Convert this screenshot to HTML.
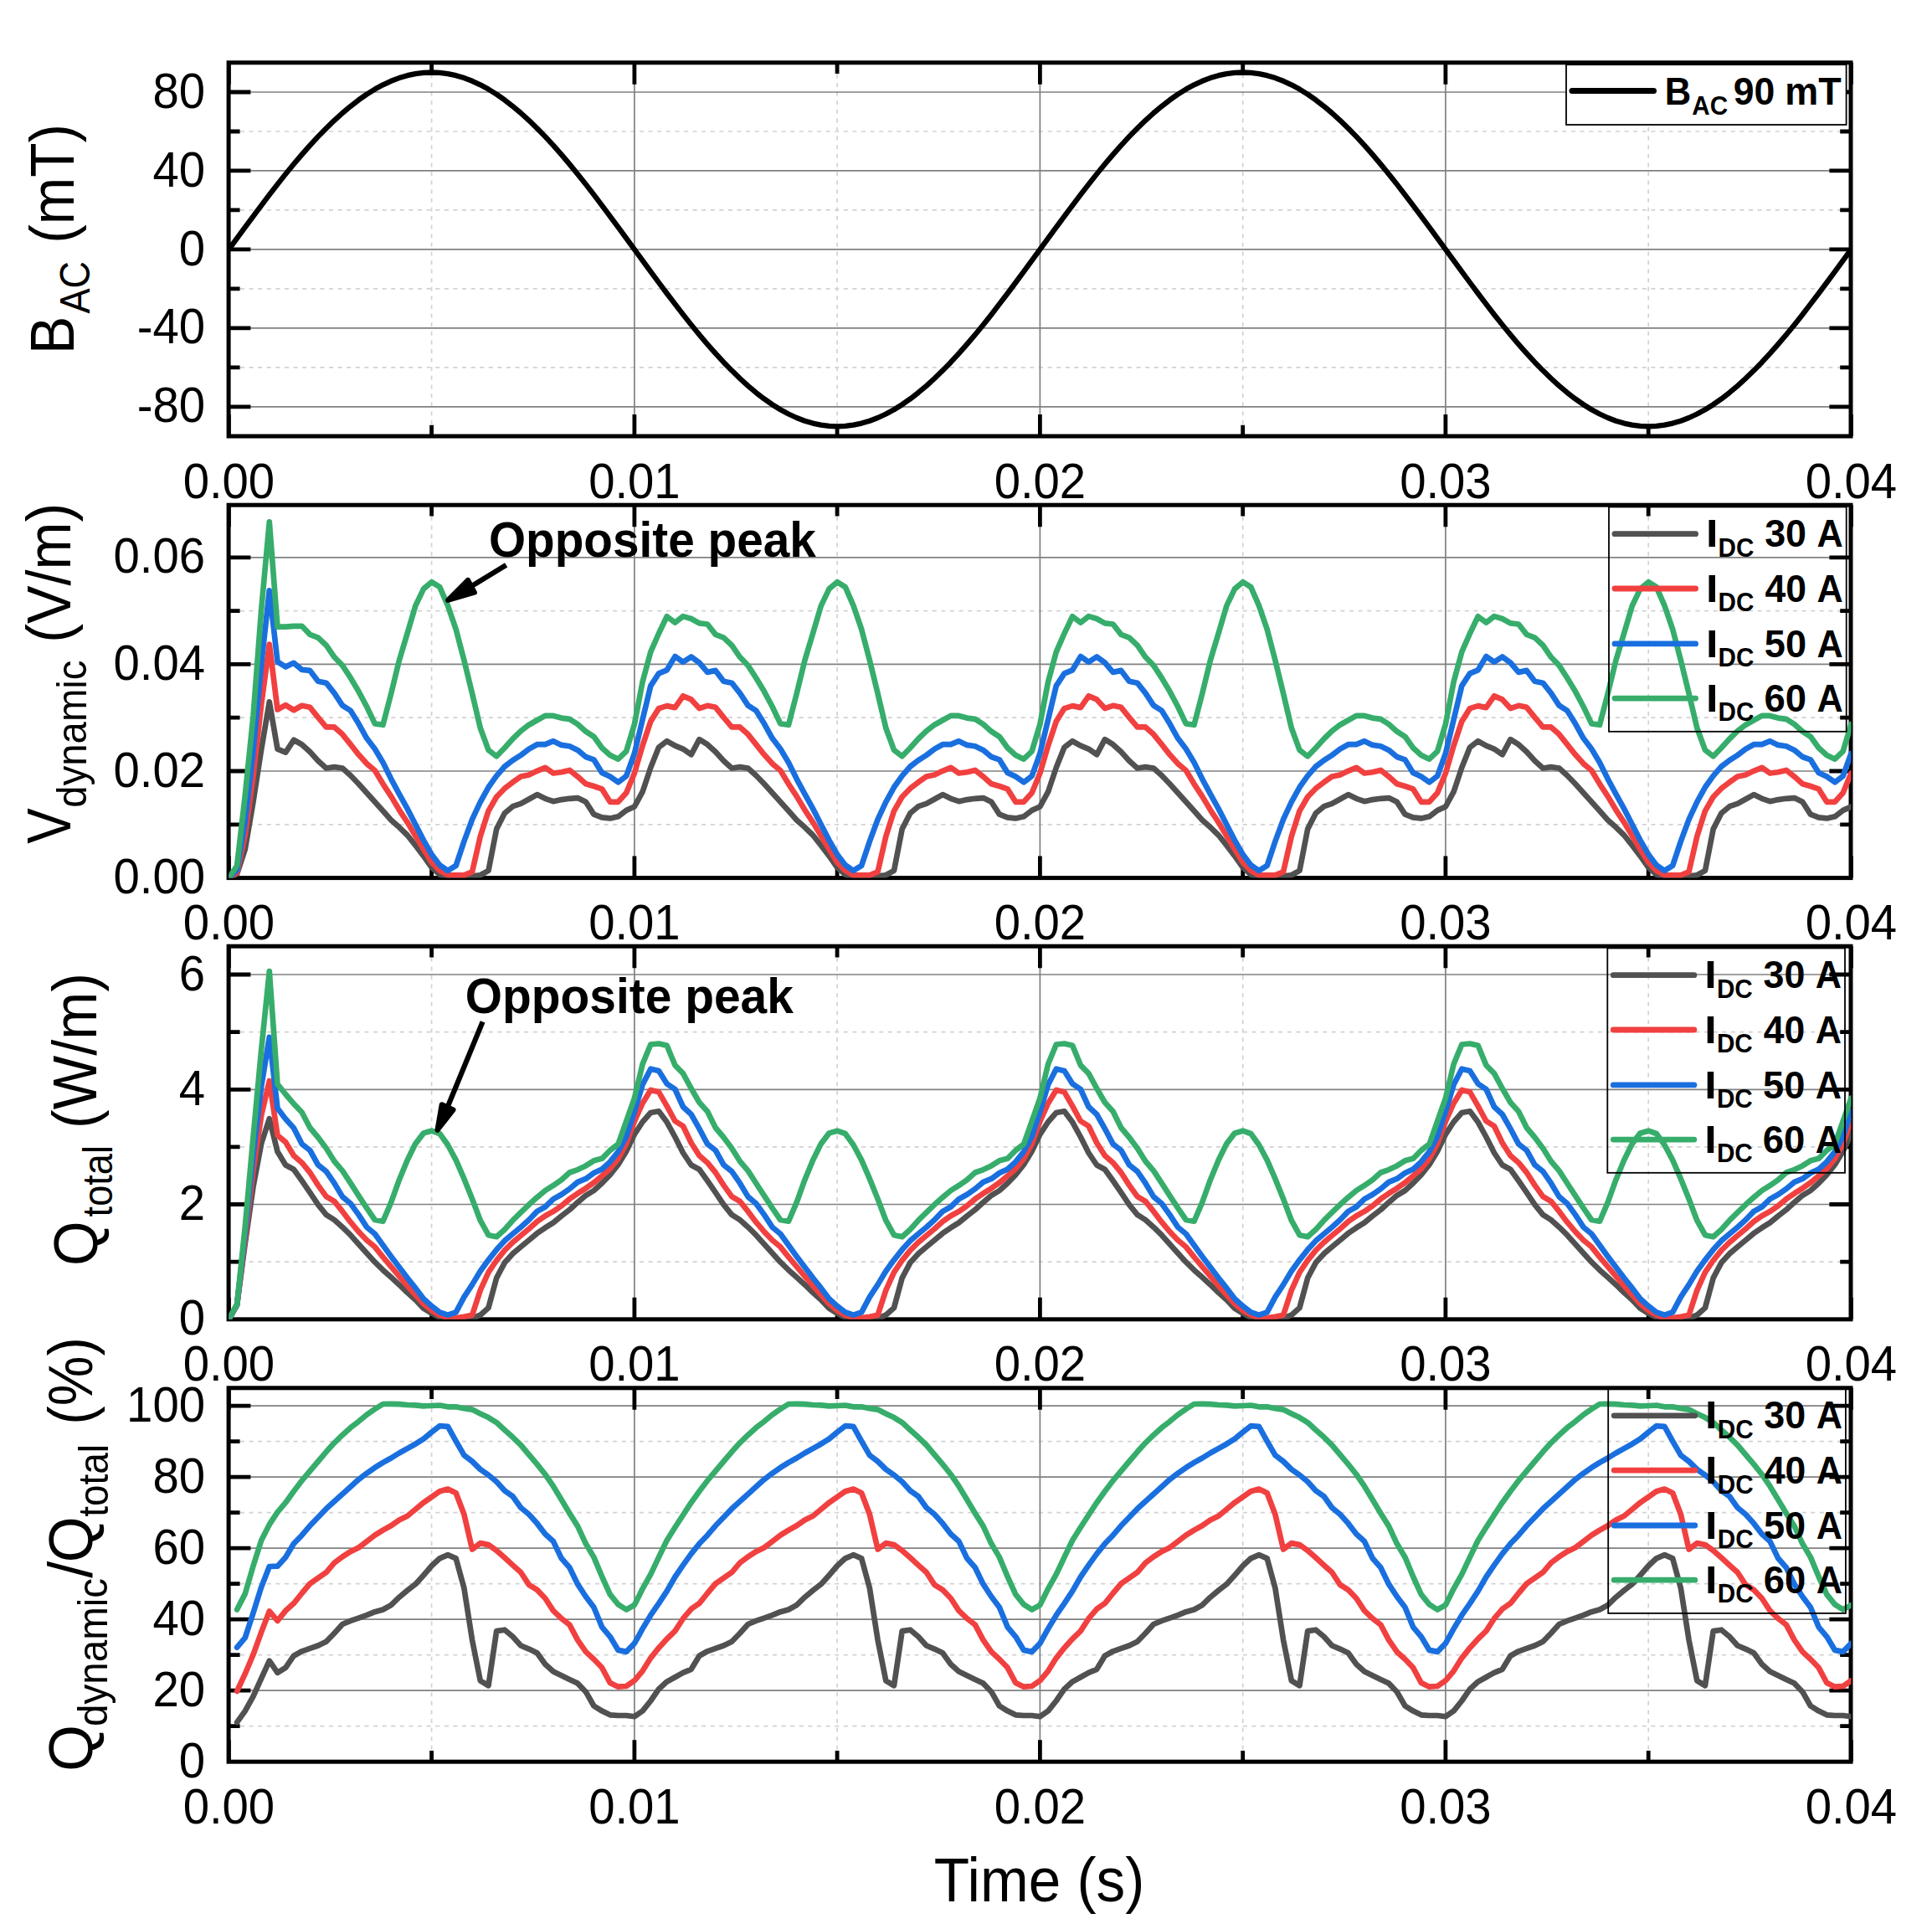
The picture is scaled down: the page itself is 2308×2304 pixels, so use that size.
<!DOCTYPE html>
<html lang="en"><head><meta charset="utf-8"><title>Dynamic voltage and loss versus time</title>
<style>html,body{margin:0;padding:0;background:#fff}svg{display:block}text{font-family:"Liberation Sans", sans-serif;fill:#000}</style></head><body>
<svg width="2308" height="2304" viewBox="0 0 2308 2304">
<rect width="2308" height="2304" fill="#fff"/>
<defs>
<clipPath id="c0"><rect x="273.4" y="74.8" width="1938" height="446.2"/></clipPath>
<clipPath id="c1"><rect x="273.4" y="603.2" width="1938" height="445.4"/></clipPath>
<clipPath id="c2"><rect x="273.4" y="1130.2" width="1938" height="445.6"/></clipPath>
<clipPath id="c3"><rect x="273.4" y="1657.8" width="1938" height="446.4"/></clipPath>
</defs>
<g>
<line x1="273.4" y1="157" x2="2211.4" y2="157" stroke="#d2d2d2" stroke-width="1.7" stroke-dasharray="5 5.6" stroke-dashoffset="-3"/>
<line x1="273.4" y1="250.9" x2="2211.4" y2="250.9" stroke="#d2d2d2" stroke-width="1.7" stroke-dasharray="5 5.6" stroke-dashoffset="-3"/>
<line x1="273.4" y1="344.9" x2="2211.4" y2="344.9" stroke="#d2d2d2" stroke-width="1.7" stroke-dasharray="5 5.6" stroke-dashoffset="-3"/>
<line x1="273.4" y1="438.8" x2="2211.4" y2="438.8" stroke="#d2d2d2" stroke-width="1.7" stroke-dasharray="5 5.6" stroke-dashoffset="-3"/>
<line x1="515.6" y1="74.8" x2="515.6" y2="521" stroke="#d2d2d2" stroke-width="1.7" stroke-dasharray="5 5.6" stroke-dashoffset="-3"/>
<line x1="1000.1" y1="74.8" x2="1000.1" y2="521" stroke="#d2d2d2" stroke-width="1.7" stroke-dasharray="5 5.6" stroke-dashoffset="-3"/>
<line x1="1484.7" y1="74.8" x2="1484.7" y2="521" stroke="#d2d2d2" stroke-width="1.7" stroke-dasharray="5 5.6" stroke-dashoffset="-3"/>
<line x1="1969.2" y1="74.8" x2="1969.2" y2="521" stroke="#d2d2d2" stroke-width="1.7" stroke-dasharray="5 5.6" stroke-dashoffset="-3"/>
<line x1="273.4" y1="110" x2="2211.4" y2="110" stroke="#808080" stroke-width="1.7"/>
<line x1="273.4" y1="203.9" x2="2211.4" y2="203.9" stroke="#808080" stroke-width="1.7"/>
<line x1="273.4" y1="297.9" x2="2211.4" y2="297.9" stroke="#808080" stroke-width="1.7"/>
<line x1="273.4" y1="391.9" x2="2211.4" y2="391.9" stroke="#808080" stroke-width="1.7"/>
<line x1="273.4" y1="485.8" x2="2211.4" y2="485.8" stroke="#808080" stroke-width="1.7"/>
<line x1="757.9" y1="74.8" x2="757.9" y2="521" stroke="#808080" stroke-width="1.7"/>
<line x1="1242.4" y1="74.8" x2="1242.4" y2="521" stroke="#808080" stroke-width="1.7"/>
<line x1="1726.9" y1="74.8" x2="1726.9" y2="521" stroke="#808080" stroke-width="1.7"/>
<path d="M273.4 110h26M2211.4 110h-26M273.4 203.9h26M2211.4 203.9h-26M273.4 297.9h26M2211.4 297.9h-26M273.4 391.9h26M2211.4 391.9h-26M273.4 485.8h26M2211.4 485.8h-26M273.4 157h13.2M2211.4 157h-13.2M273.4 250.9h13.2M2211.4 250.9h-13.2M273.4 344.9h13.2M2211.4 344.9h-13.2M273.4 438.8h13.2M2211.4 438.8h-13.2M273.4 74.8v26M273.4 521v-26M757.9 74.8v26M757.9 521v-26M1242.4 74.8v26M1242.4 521v-26M1726.9 74.8v26M1726.9 521v-26M2211.4 74.8v26M2211.4 521v-26M515.6 74.8v13.2M515.6 521v-13.2M1000.1 74.8v13.2M1000.1 521v-13.2M1484.7 74.8v13.2M1484.7 521v-13.2M1969.2 74.8v13.2M1969.2 521v-13.2" stroke="#000" stroke-width="4.8" fill="none"/>
<rect x="273.1" y="74.8" width="1937.9" height="446.2" fill="none" stroke="#000" stroke-width="5"/>
</g>
<g>
<line x1="273.4" y1="729.6" x2="2211.4" y2="729.6" stroke="#d2d2d2" stroke-width="1.7" stroke-dasharray="5 5.6" stroke-dashoffset="-3"/>
<line x1="273.4" y1="857.2" x2="2211.4" y2="857.2" stroke="#d2d2d2" stroke-width="1.7" stroke-dasharray="5 5.6" stroke-dashoffset="-3"/>
<line x1="273.4" y1="984.8" x2="2211.4" y2="984.8" stroke="#d2d2d2" stroke-width="1.7" stroke-dasharray="5 5.6" stroke-dashoffset="-3"/>
<line x1="515.6" y1="603.2" x2="515.6" y2="1048.6" stroke="#d2d2d2" stroke-width="1.7" stroke-dasharray="5 5.6" stroke-dashoffset="-3"/>
<line x1="1000.1" y1="603.2" x2="1000.1" y2="1048.6" stroke="#d2d2d2" stroke-width="1.7" stroke-dasharray="5 5.6" stroke-dashoffset="-3"/>
<line x1="1484.7" y1="603.2" x2="1484.7" y2="1048.6" stroke="#d2d2d2" stroke-width="1.7" stroke-dasharray="5 5.6" stroke-dashoffset="-3"/>
<line x1="1969.2" y1="603.2" x2="1969.2" y2="1048.6" stroke="#d2d2d2" stroke-width="1.7" stroke-dasharray="5 5.6" stroke-dashoffset="-3"/>
<line x1="273.4" y1="665.8" x2="2211.4" y2="665.8" stroke="#808080" stroke-width="1.7"/>
<line x1="273.4" y1="793.4" x2="2211.4" y2="793.4" stroke="#808080" stroke-width="1.7"/>
<line x1="273.4" y1="921" x2="2211.4" y2="921" stroke="#808080" stroke-width="1.7"/>
<line x1="757.9" y1="603.2" x2="757.9" y2="1048.6" stroke="#808080" stroke-width="1.7"/>
<line x1="1242.4" y1="603.2" x2="1242.4" y2="1048.6" stroke="#808080" stroke-width="1.7"/>
<line x1="1726.9" y1="603.2" x2="1726.9" y2="1048.6" stroke="#808080" stroke-width="1.7"/>
<path d="M273.4 665.8h26M2211.4 665.8h-26M273.4 793.4h26M2211.4 793.4h-26M273.4 921h26M2211.4 921h-26M273.4 729.6h13.2M2211.4 729.6h-13.2M273.4 857.2h13.2M2211.4 857.2h-13.2M273.4 984.8h13.2M2211.4 984.8h-13.2M273.4 603.2v26M273.4 1048.6v-26M757.9 603.2v26M757.9 1048.6v-26M1242.4 603.2v26M1242.4 1048.6v-26M1726.9 603.2v26M1726.9 1048.6v-26M2211.4 603.2v26M2211.4 1048.6v-26M515.6 603.2v13.2M515.6 1048.6v-13.2M1000.1 603.2v13.2M1000.1 1048.6v-13.2M1484.7 603.2v13.2M1484.7 1048.6v-13.2M1969.2 603.2v13.2M1969.2 1048.6v-13.2" stroke="#000" stroke-width="4.8" fill="none"/>
<rect x="273.1" y="603.2" width="1937.9" height="445.4" fill="none" stroke="#000" stroke-width="5"/>
</g>
<g>
<line x1="273.4" y1="1232.7" x2="2211.4" y2="1232.7" stroke="#d2d2d2" stroke-width="1.7" stroke-dasharray="5 5.6" stroke-dashoffset="-3"/>
<line x1="273.4" y1="1369.9" x2="2211.4" y2="1369.9" stroke="#d2d2d2" stroke-width="1.7" stroke-dasharray="5 5.6" stroke-dashoffset="-3"/>
<line x1="273.4" y1="1507.2" x2="2211.4" y2="1507.2" stroke="#d2d2d2" stroke-width="1.7" stroke-dasharray="5 5.6" stroke-dashoffset="-3"/>
<line x1="515.6" y1="1130.2" x2="515.6" y2="1575.8" stroke="#d2d2d2" stroke-width="1.7" stroke-dasharray="5 5.6" stroke-dashoffset="-3"/>
<line x1="1000.1" y1="1130.2" x2="1000.1" y2="1575.8" stroke="#d2d2d2" stroke-width="1.7" stroke-dasharray="5 5.6" stroke-dashoffset="-3"/>
<line x1="1484.7" y1="1130.2" x2="1484.7" y2="1575.8" stroke="#d2d2d2" stroke-width="1.7" stroke-dasharray="5 5.6" stroke-dashoffset="-3"/>
<line x1="1969.2" y1="1130.2" x2="1969.2" y2="1575.8" stroke="#d2d2d2" stroke-width="1.7" stroke-dasharray="5 5.6" stroke-dashoffset="-3"/>
<line x1="273.4" y1="1164" x2="2211.4" y2="1164" stroke="#808080" stroke-width="1.7"/>
<line x1="273.4" y1="1301.3" x2="2211.4" y2="1301.3" stroke="#808080" stroke-width="1.7"/>
<line x1="273.4" y1="1438.5" x2="2211.4" y2="1438.5" stroke="#808080" stroke-width="1.7"/>
<line x1="757.9" y1="1130.2" x2="757.9" y2="1575.8" stroke="#808080" stroke-width="1.7"/>
<line x1="1242.4" y1="1130.2" x2="1242.4" y2="1575.8" stroke="#808080" stroke-width="1.7"/>
<line x1="1726.9" y1="1130.2" x2="1726.9" y2="1575.8" stroke="#808080" stroke-width="1.7"/>
<path d="M273.4 1164h26M2211.4 1164h-26M273.4 1301.3h26M2211.4 1301.3h-26M273.4 1438.5h26M2211.4 1438.5h-26M273.4 1232.7h13.2M2211.4 1232.7h-13.2M273.4 1369.9h13.2M2211.4 1369.9h-13.2M273.4 1507.2h13.2M2211.4 1507.2h-13.2M273.4 1130.2v26M273.4 1575.8v-26M757.9 1130.2v26M757.9 1575.8v-26M1242.4 1130.2v26M1242.4 1575.8v-26M1726.9 1130.2v26M1726.9 1575.8v-26M2211.4 1130.2v26M2211.4 1575.8v-26M515.6 1130.2v13.2M515.6 1575.8v-13.2M1000.1 1130.2v13.2M1000.1 1575.8v-13.2M1484.7 1130.2v13.2M1484.7 1575.8v-13.2M1969.2 1130.2v13.2M1969.2 1575.8v-13.2" stroke="#000" stroke-width="4.8" fill="none"/>
<rect x="273.1" y="1130.2" width="1937.9" height="445.6" fill="none" stroke="#000" stroke-width="5"/>
</g>
<g>
<line x1="273.4" y1="1721.7" x2="2211.4" y2="1721.7" stroke="#d2d2d2" stroke-width="1.7" stroke-dasharray="5 5.6" stroke-dashoffset="-3"/>
<line x1="273.4" y1="1806.7" x2="2211.4" y2="1806.7" stroke="#d2d2d2" stroke-width="1.7" stroke-dasharray="5 5.6" stroke-dashoffset="-3"/>
<line x1="273.4" y1="1891.7" x2="2211.4" y2="1891.7" stroke="#d2d2d2" stroke-width="1.7" stroke-dasharray="5 5.6" stroke-dashoffset="-3"/>
<line x1="273.4" y1="1976.7" x2="2211.4" y2="1976.7" stroke="#d2d2d2" stroke-width="1.7" stroke-dasharray="5 5.6" stroke-dashoffset="-3"/>
<line x1="273.4" y1="2061.7" x2="2211.4" y2="2061.7" stroke="#d2d2d2" stroke-width="1.7" stroke-dasharray="5 5.6" stroke-dashoffset="-3"/>
<line x1="515.6" y1="1657.8" x2="515.6" y2="2104.2" stroke="#d2d2d2" stroke-width="1.7" stroke-dasharray="5 5.6" stroke-dashoffset="-3"/>
<line x1="1000.1" y1="1657.8" x2="1000.1" y2="2104.2" stroke="#d2d2d2" stroke-width="1.7" stroke-dasharray="5 5.6" stroke-dashoffset="-3"/>
<line x1="1484.7" y1="1657.8" x2="1484.7" y2="2104.2" stroke="#d2d2d2" stroke-width="1.7" stroke-dasharray="5 5.6" stroke-dashoffset="-3"/>
<line x1="1969.2" y1="1657.8" x2="1969.2" y2="2104.2" stroke="#d2d2d2" stroke-width="1.7" stroke-dasharray="5 5.6" stroke-dashoffset="-3"/>
<line x1="273.4" y1="1679.2" x2="2211.4" y2="1679.2" stroke="#808080" stroke-width="1.7"/>
<line x1="273.4" y1="1764.2" x2="2211.4" y2="1764.2" stroke="#808080" stroke-width="1.7"/>
<line x1="273.4" y1="1849.2" x2="2211.4" y2="1849.2" stroke="#808080" stroke-width="1.7"/>
<line x1="273.4" y1="1934.2" x2="2211.4" y2="1934.2" stroke="#808080" stroke-width="1.7"/>
<line x1="273.4" y1="2019.2" x2="2211.4" y2="2019.2" stroke="#808080" stroke-width="1.7"/>
<line x1="757.9" y1="1657.8" x2="757.9" y2="2104.2" stroke="#808080" stroke-width="1.7"/>
<line x1="1242.4" y1="1657.8" x2="1242.4" y2="2104.2" stroke="#808080" stroke-width="1.7"/>
<line x1="1726.9" y1="1657.8" x2="1726.9" y2="2104.2" stroke="#808080" stroke-width="1.7"/>
<path d="M273.4 1679.2h26M2211.4 1679.2h-26M273.4 1764.2h26M2211.4 1764.2h-26M273.4 1849.2h26M2211.4 1849.2h-26M273.4 1934.2h26M2211.4 1934.2h-26M273.4 2019.2h26M2211.4 2019.2h-26M273.4 1721.7h13.2M2211.4 1721.7h-13.2M273.4 1806.7h13.2M2211.4 1806.7h-13.2M273.4 1891.7h13.2M2211.4 1891.7h-13.2M273.4 1976.7h13.2M2211.4 1976.7h-13.2M273.4 2061.7h13.2M2211.4 2061.7h-13.2M273.4 1657.8v26M273.4 2104.2v-26M757.9 1657.8v26M757.9 2104.2v-26M1242.4 1657.8v26M1242.4 2104.2v-26M1726.9 1657.8v26M1726.9 2104.2v-26M2211.4 1657.8v26M2211.4 2104.2v-26M515.6 1657.8v13.2M515.6 2104.2v-13.2M1000.1 1657.8v13.2M1000.1 2104.2v-13.2M1484.7 1657.8v13.2M1484.7 2104.2v-13.2M1969.2 1657.8v13.2M1969.2 2104.2v-13.2" stroke="#000" stroke-width="4.8" fill="none"/>
<rect x="273.1" y="1657.8" width="1937.9" height="446.4" fill="none" stroke="#000" stroke-width="5"/>
</g>
<rect x="1871" y="77.2" width="334.6" height="71.8" fill="#fff" stroke="#000" stroke-width="1.8"/>
<polyline clip-path="url(#c0)" points="273.4,297.9 283.1,284.6 292.8,271.4 302.5,258.3 312.2,245.3 321.8,232.6 331.5,220.1 341.2,207.9 350.9,196.1 360.6,184.6 370.3,173.6 380,163.1 389.7,153.2 399.4,143.8 409.1,135 418.8,126.9 428.4,119.4 438.1,112.6 447.8,106.6 457.5,101.3 467.2,96.8 476.9,93.1 486.6,90.2 496.3,88.2 506,86.9 515.6,86.5 525.3,86.9 535,88.2 544.7,90.2 554.4,93.1 564.1,96.8 573.8,101.3 583.5,106.6 593.2,112.6 602.9,119.4 612.5,126.9 622.2,135 631.9,143.8 641.6,153.2 651.3,163.1 661,173.6 670.7,184.6 680.4,196.1 690.1,207.9 699.8,220.1 709.5,232.6 719.1,245.3 728.8,258.3 738.5,271.4 748.2,284.6 757.9,297.9 767.6,311.2 777.3,324.4 787,337.5 796.7,350.5 806.4,363.2 816,375.7 825.7,387.9 835.4,399.7 845.1,411.2 854.8,422.2 864.5,432.7 874.2,442.6 883.9,452 893.6,460.8 903.2,468.9 912.9,476.4 922.6,483.2 932.3,489.2 942,494.5 951.7,499 961.4,502.7 971.1,505.6 980.8,507.6 990.5,508.9 1000.1,509.3 1009.8,508.9 1019.5,507.6 1029.2,505.6 1038.9,502.7 1048.6,499 1058.3,494.5 1068,489.2 1077.7,483.2 1087.4,476.4 1097,468.9 1106.7,460.8 1116.4,452 1126.1,442.6 1135.8,432.7 1145.5,422.2 1155.2,411.2 1164.9,399.7 1174.6,387.9 1184.3,375.7 1193.9,363.2 1203.6,350.5 1213.3,337.5 1223,324.4 1232.7,311.2 1242.4,297.9 1252.1,284.6 1261.8,271.4 1271.5,258.3 1281.2,245.3 1290.8,232.6 1300.5,220.1 1310.2,207.9 1319.9,196.1 1329.6,184.6 1339.3,173.6 1349,163.1 1358.7,153.2 1368.4,143.8 1378.1,135 1387.8,126.9 1397.4,119.4 1407.1,112.6 1416.8,106.6 1426.5,101.3 1436.2,96.8 1445.9,93.1 1455.6,90.2 1465.3,88.2 1475,86.9 1484.7,86.5 1494.3,86.9 1504,88.2 1513.7,90.2 1523.4,93.1 1533.1,96.8 1542.8,101.3 1552.5,106.6 1562.2,112.6 1571.9,119.4 1581.6,126.9 1591.2,135 1600.9,143.8 1610.6,153.2 1620.3,163.1 1630,173.6 1639.7,184.6 1649.4,196.1 1659.1,207.9 1668.8,220.1 1678.4,232.6 1688.1,245.3 1697.8,258.3 1707.5,271.4 1717.2,284.6 1726.9,297.9 1736.6,311.2 1746.3,324.4 1756,337.5 1765.7,350.5 1775.3,363.2 1785,375.7 1794.7,387.9 1804.4,399.7 1814.1,411.2 1823.8,422.2 1833.5,432.7 1843.2,442.6 1852.9,452 1862.6,460.8 1872.2,468.9 1881.9,476.4 1891.6,483.2 1901.3,489.2 1911,494.5 1920.7,499 1930.4,502.7 1940.1,505.6 1949.8,507.6 1959.5,508.9 1969.2,509.3 1978.8,508.9 1988.5,507.6 1998.2,505.6 2007.9,502.7 2017.6,499 2027.3,494.5 2037,489.2 2046.7,483.2 2056.4,476.4 2066.1,468.9 2075.7,460.8 2085.4,452 2095.1,442.6 2104.8,432.7 2114.5,422.2 2124.2,411.2 2133.9,399.7 2143.6,387.9 2153.3,375.7 2162.9,363.2 2172.6,350.5 2182.3,337.5 2192,324.4 2201.7,311.2 2211.4,297.9" fill="none" stroke="#000" stroke-width="6.3" stroke-linejoin="round" stroke-linecap="round"/>
<polyline clip-path="url(#c1)" points="273.4,1048.6 283.1,1044 292.8,1014.4 302.5,957.8 312.2,895 321.8,838.4 331.5,894.6 341.2,898.6 350.9,883.8 360.6,889.2 370.3,898 380,908.7 389.7,917.5 399.4,916.1 409.1,917.5 418.8,926.2 428.4,936.3 438.1,947.1 447.8,957.8 457.5,968.6 467.2,979.4 476.9,988.1 486.6,997.5 496.3,1009.7 506,1022.4 515.6,1036 525.3,1044.6 535,1048 544.7,1048.6 554.4,1048 564.1,1046.4 573.8,1045.3 583.5,1039.9 593.2,990.1 602.9,971.3 612.5,963.2 622.2,959.9 631.9,954.5 641.6,949.1 651.3,953.8 661,957.2 670.7,955.1 680.4,953.8 690.1,953.1 699.8,957.8 709.4,972.6 719.1,976.4 728.8,977.4 738.5,975.3 748.2,967.9 757.9,963.5 767.6,945.7 777.3,916.8 787,892.6 796.7,885.2 806.4,890.6 816,894.6 825.7,901.3 835.4,883.2 845.1,889.2 854.8,898 864.5,908.7 874.2,917.5 883.9,916.1 893.6,917.5 903.2,926.2 912.9,936.3 922.6,947.1 932.3,957.8 942,968.6 951.7,979.4 961.4,988.1 971.1,997.5 980.8,1009.7 990.5,1022.4 1000.1,1036 1009.8,1044.6 1019.5,1048 1029.2,1048.6 1038.9,1048 1048.6,1046.4 1058.3,1045.3 1068,1039.9 1077.7,990.1 1087.4,971.3 1097,963.2 1106.7,959.9 1116.4,954.5 1126.1,949.1 1135.8,953.8 1145.5,957.2 1155.2,955.1 1164.9,953.8 1174.6,953.1 1184.3,957.8 1193.9,972.6 1203.6,976.4 1213.3,977.4 1223,975.3 1232.7,967.9 1242.4,963.5 1252.1,945.7 1261.8,916.8 1271.5,892.6 1281.2,885.2 1290.9,890.6 1300.5,894.6 1310.2,901.3 1319.9,883.2 1329.6,889.2 1339.3,898 1349,908.7 1358.7,917.5 1368.4,916.1 1378.1,917.5 1387.8,926.2 1397.4,936.3 1407.1,947.1 1416.8,957.8 1426.5,968.6 1436.2,979.4 1445.9,988.1 1455.6,997.5 1465.3,1009.7 1475,1022.4 1484.7,1036 1494.3,1044.6 1504,1048 1513.7,1048.6 1523.4,1048 1533.1,1046.4 1542.8,1045.3 1552.5,1039.9 1562.2,990.1 1571.9,971.3 1581.6,963.2 1591.2,959.9 1600.9,954.5 1610.6,949.1 1620.3,953.8 1630,957.2 1639.7,955.1 1649.4,953.8 1659.1,953.1 1668.8,957.8 1678.5,972.6 1688.1,976.4 1697.8,977.4 1707.5,975.3 1717.2,967.9 1726.9,963.5 1736.6,945.7 1746.3,916.8 1756,892.6 1765.7,885.2 1775.4,890.6 1785,894.6 1794.7,901.3 1804.4,883.2 1814.1,889.2 1823.8,898 1833.5,908.7 1843.2,917.5 1852.9,916.1 1862.6,917.5 1872.2,926.2 1881.9,936.3 1891.6,947.1 1901.3,957.8 1911,968.6 1920.7,979.4 1930.4,988.1 1940.1,997.5 1949.8,1009.7 1959.5,1022.4 1969.2,1036 1978.8,1044.6 1988.5,1048 1998.2,1048.6 2007.9,1048 2017.6,1046.4 2027.3,1045.3 2037,1039.9 2046.7,990.1 2056.4,971.3 2066.1,963.2 2075.7,959.9 2085.4,954.5 2095.1,949.1 2104.8,953.8 2114.5,957.2 2124.2,955.1 2133.9,953.8 2143.6,953.1 2153.3,957.8 2162.9,972.6 2172.6,976.4 2182.3,977.4 2192,975.3 2201.7,967.9 2211.4,963.5" fill="none" stroke="#515151" stroke-width="6.7" stroke-linejoin="round" stroke-linecap="round"/>
<polyline clip-path="url(#c1)" points="273.4,1048.6 283.1,1042.2 292.8,997.6 302.5,927.4 312.2,841.3 321.8,769.5 331.5,847.5 341.2,842.1 350.9,848.2 360.6,842.8 370.3,844.8 380,856.9 389.7,868.4 399.4,868.4 409.1,877.1 418.8,889.2 428.4,901.3 438.1,912.1 447.8,920.2 457.5,936.3 467.2,951.1 476.9,967.3 486.6,982.1 496.3,998.2 506,1014.4 515.6,1030 525.3,1039.9 535,1045.3 544.7,1045.3 554.4,1045.3 564.1,1041.3 573.8,998.9 583.5,968.6 593.2,951.8 602.9,941.7 612.5,934.3 622.2,927.6 631.9,925.5 641.6,920.8 651.3,916.8 661,923.5 670.7,922.2 680.4,919.9 690.1,927.6 699.8,936.3 709.4,939 719.1,942.4 728.8,957.8 738.5,957.8 748.2,947.1 757.9,923.5 767.6,890.6 777.3,861.6 787,846.1 796.7,843.1 806.4,845.1 816,831.3 825.7,835.4 835.4,846.1 845.1,842.8 854.8,844.8 864.5,856.9 874.2,868.4 883.9,868.4 893.6,877.1 903.2,889.2 912.9,901.3 922.6,912.1 932.3,920.2 942,936.3 951.7,951.1 961.4,967.3 971.1,982.1 980.8,998.2 990.5,1014.4 1000.1,1030 1009.8,1039.9 1019.5,1045.3 1029.2,1045.3 1038.9,1045.3 1048.6,1041.3 1058.3,998.9 1068,968.6 1077.7,951.8 1087.4,941.7 1097,934.3 1106.7,927.6 1116.4,925.5 1126.1,920.8 1135.8,916.8 1145.5,923.5 1155.2,922.2 1164.9,919.9 1174.6,927.6 1184.3,936.3 1193.9,939 1203.6,942.4 1213.3,957.8 1223,957.8 1232.7,947.1 1242.4,923.5 1252.1,890.6 1261.8,861.6 1271.5,846.1 1281.2,843.1 1290.9,845.1 1300.5,831.3 1310.2,835.4 1319.9,846.1 1329.6,842.8 1339.3,844.8 1349,856.9 1358.7,868.4 1368.4,868.4 1378.1,877.1 1387.8,889.2 1397.4,901.3 1407.1,912.1 1416.8,920.2 1426.5,936.3 1436.2,951.1 1445.9,967.3 1455.6,982.1 1465.3,998.2 1475,1014.4 1484.7,1030 1494.3,1039.9 1504,1045.3 1513.7,1045.3 1523.4,1045.3 1533.1,1041.3 1542.8,998.9 1552.5,968.6 1562.2,951.8 1571.9,941.7 1581.6,934.3 1591.2,927.6 1600.9,925.5 1610.6,920.8 1620.3,916.8 1630,923.5 1639.7,922.2 1649.4,919.9 1659.1,927.6 1668.8,936.3 1678.5,939 1688.1,942.4 1697.8,957.8 1707.5,957.8 1717.2,947.1 1726.9,923.5 1736.6,890.6 1746.3,861.6 1756,846.1 1765.7,843.1 1775.4,845.1 1785,831.3 1794.7,835.4 1804.4,846.1 1814.1,842.8 1823.8,844.8 1833.5,856.9 1843.2,868.4 1852.9,868.4 1862.6,877.1 1872.2,889.2 1881.9,901.3 1891.6,912.1 1901.3,920.2 1911,936.3 1920.7,951.1 1930.4,967.3 1940.1,982.1 1949.8,998.2 1959.5,1014.4 1969.2,1030 1978.8,1039.9 1988.5,1045.3 1998.2,1045.3 2007.9,1045.3 2017.6,1041.3 2027.3,998.9 2037,968.6 2046.7,951.8 2056.4,941.7 2066.1,934.3 2075.7,927.6 2085.4,925.5 2095.1,920.8 2104.8,916.8 2114.5,923.5 2124.2,922.2 2133.9,919.9 2143.6,927.6 2153.3,936.3 2162.9,939 2172.6,942.4 2182.3,957.8 2192,957.8 2201.7,947.1 2211.4,923.5" fill="none" stroke="#F14040" stroke-width="6.7" stroke-linejoin="round" stroke-linecap="round"/>
<polyline clip-path="url(#c1)" points="273.4,1048.6 283.1,1039 292.8,981.6 302.5,897.4 312.2,793.4 321.8,705.4 331.5,790.4 341.2,796.5 350.9,791.8 360.6,799.8 370.3,800.9 380,813.7 389.7,815.7 399.4,827.8 409.1,842.6 418.8,848.8 428.4,864.3 438.1,881.8 447.8,894.6 457.5,910.7 467.2,930.3 476.9,948.4 486.6,965.9 496.3,984.8 506,1003.6 515.6,1020.4 525.3,1033.2 535,1039.9 544.7,1033.9 554.4,1004.9 564.1,978.7 573.8,957.8 583.5,940.3 593.2,926.6 602.9,915.5 612.5,908.1 622.2,902 631.9,894.6 641.6,889.2 651.3,889.2 661,885.2 670.7,889.9 680.4,891.2 690.1,895.9 699.8,904 709.4,907.4 719.1,922.9 728.8,927.6 738.5,934.3 748.2,926.9 757.9,900 767.6,859.5 777.3,819.1 787,804.3 796.7,800.3 806.4,784.1 816,790.8 825.7,784.5 835.4,791.5 845.1,802.9 854.8,800.9 864.5,813.7 874.2,815.7 883.9,827.8 893.6,842.6 903.2,848.8 912.9,864.3 922.6,881.8 932.3,894.6 942,910.7 951.7,930.3 961.4,948.4 971.1,965.9 980.8,984.8 990.5,1003.6 1000.1,1020.4 1009.8,1033.2 1019.5,1039.9 1029.2,1033.9 1038.9,1004.9 1048.6,978.7 1058.3,957.8 1068,940.3 1077.7,926.6 1087.4,915.5 1097,908.1 1106.7,902 1116.4,894.6 1126.1,889.2 1135.8,889.2 1145.5,885.2 1155.2,889.9 1164.9,891.2 1174.6,895.9 1184.3,904 1193.9,907.4 1203.6,922.9 1213.3,927.6 1223,934.3 1232.7,926.9 1242.4,900 1252.1,859.5 1261.8,819.1 1271.5,804.3 1281.2,800.3 1290.9,784.1 1300.5,790.8 1310.2,784.5 1319.9,791.5 1329.6,802.9 1339.3,800.9 1349,813.7 1358.7,815.7 1368.4,827.8 1378.1,842.6 1387.8,848.8 1397.4,864.3 1407.1,881.8 1416.8,894.6 1426.5,910.7 1436.2,930.3 1445.9,948.4 1455.6,965.9 1465.3,984.8 1475,1003.6 1484.7,1020.4 1494.3,1033.2 1504,1039.9 1513.7,1033.9 1523.4,1004.9 1533.1,978.7 1542.8,957.8 1552.5,940.3 1562.2,926.6 1571.9,915.5 1581.6,908.1 1591.2,902 1600.9,894.6 1610.6,889.2 1620.3,889.2 1630,885.2 1639.7,889.9 1649.4,891.2 1659.1,895.9 1668.8,904 1678.5,907.4 1688.1,922.9 1697.8,927.6 1707.5,934.3 1717.2,926.9 1726.9,900 1736.6,859.5 1746.3,819.1 1756,804.3 1765.7,800.3 1775.4,784.1 1785,790.8 1794.7,784.5 1804.4,791.5 1814.1,802.9 1823.8,800.9 1833.5,813.7 1843.2,815.7 1852.9,827.8 1862.6,842.6 1872.2,848.8 1881.9,864.3 1891.6,881.8 1901.3,894.6 1911,910.7 1920.7,930.3 1930.4,948.4 1940.1,965.9 1949.8,984.8 1959.5,1003.6 1969.2,1020.4 1978.8,1033.2 1988.5,1039.9 1998.2,1033.9 2007.9,1004.9 2017.6,978.7 2027.3,957.8 2037,940.3 2046.7,926.6 2056.4,915.5 2066.1,908.1 2075.7,902 2085.4,894.6 2095.1,889.2 2104.8,889.2 2114.5,885.2 2124.2,889.9 2133.9,891.2 2143.6,895.9 2153.3,904 2162.9,907.4 2172.6,922.9 2182.3,927.6 2192,934.3 2201.7,926.9 2211.4,900" fill="none" stroke="#1A6FDF" stroke-width="6.7" stroke-linejoin="round" stroke-linecap="round"/>
<polyline clip-path="url(#c1)" points="273.4,1048.6 283.1,1034 292.8,950 302.5,855 312.2,728 321.8,623.3 331.5,748.7 341.2,748.7 350.9,747.8 360.6,747.8 370.3,757.9 380,761.6 389.7,770.7 399.4,784.8 409.1,794.9 418.8,809.7 428.4,825.8 438.1,844 447.8,864.4 457.5,865.8 467.2,828.5 476.9,788.8 486.6,756.5 496.3,723.6 506,703.4 515.6,695.2 525.3,701.2 535,723.4 544.7,751.7 554.4,788.7 564.1,828.4 573.8,869.5 583.5,895.9 593.2,903.3 602.9,893.2 612.5,882.5 622.2,873.1 631.9,865.7 641.6,860.3 651.3,854.9 661,854.9 670.7,857.6 680.4,858.9 690.1,865 699.8,873.7 709.4,879.8 719.1,893.2 728.8,902 738.5,906.7 748.2,897.3 757.9,865 767.6,814.4 777.3,778.7 787,756.5 796.7,736.3 806.4,743.7 816,736.1 825.7,739 835.4,744.4 845.1,745.5 854.8,757.9 864.5,761.6 874.2,770.7 883.9,784.8 893.6,794.9 903.2,809.7 912.9,825.8 922.6,844 932.3,864.4 942,865.8 951.7,828.5 961.4,788.8 971.1,756.5 980.8,723.6 990.5,703.4 1000.1,695.2 1009.8,701.2 1019.5,723.4 1029.2,751.7 1038.9,788.7 1048.6,828.4 1058.3,869.5 1068,895.9 1077.7,903.3 1087.4,893.2 1097,882.5 1106.7,873.1 1116.4,865.7 1126.1,860.3 1135.8,854.9 1145.5,854.9 1155.2,857.6 1164.9,858.9 1174.6,865 1184.3,873.7 1193.9,879.8 1203.6,893.2 1213.3,902 1223,906.7 1232.7,897.3 1242.4,865 1252.1,814.4 1261.8,778.7 1271.5,756.5 1281.2,736.3 1290.9,743.7 1300.5,736.1 1310.2,739 1319.9,744.4 1329.6,745.5 1339.3,757.9 1349,761.6 1358.7,770.7 1368.4,784.8 1378.1,794.9 1387.8,809.7 1397.4,825.8 1407.1,844 1416.8,864.4 1426.5,865.8 1436.2,828.5 1445.9,788.8 1455.6,756.5 1465.3,723.6 1475,703.4 1484.7,695.2 1494.3,701.2 1504,723.4 1513.7,751.7 1523.4,788.7 1533.1,828.4 1542.8,869.5 1552.5,895.9 1562.2,903.3 1571.9,893.2 1581.6,882.5 1591.2,873.1 1600.9,865.7 1610.6,860.3 1620.3,854.9 1630,854.9 1639.7,857.6 1649.4,858.9 1659.1,865 1668.8,873.7 1678.5,879.8 1688.1,893.2 1697.8,902 1707.5,906.7 1717.2,897.3 1726.9,865 1736.6,814.4 1746.3,778.7 1756,756.5 1765.7,736.3 1775.4,743.7 1785,736.1 1794.7,739 1804.4,744.4 1814.1,745.5 1823.8,757.9 1833.5,761.6 1843.2,770.7 1852.9,784.8 1862.6,794.9 1872.2,809.7 1881.9,825.8 1891.6,844 1901.3,864.4 1911,865.8 1920.7,828.5 1930.4,788.8 1940.1,756.5 1949.8,723.6 1959.5,703.4 1969.2,695.2 1978.8,701.2 1988.5,723.4 1998.2,751.7 2007.9,788.7 2017.6,828.4 2027.3,869.5 2037,895.9 2046.7,903.3 2056.4,893.2 2066.1,882.5 2075.7,873.1 2085.4,865.7 2095.1,860.3 2104.8,854.9 2114.5,854.9 2124.2,857.6 2133.9,858.9 2143.6,865 2153.3,873.7 2162.9,879.8 2172.6,893.2 2182.3,902 2192,906.7 2201.7,897.3 2211.4,865" fill="none" stroke="#37AD6B" stroke-width="6.7" stroke-linejoin="round" stroke-linecap="round"/>
<polyline clip-path="url(#c2)" points="273.4,1575.8 283.1,1558.6 292.8,1485.2 302.5,1417.3 312.2,1365.8 321.8,1336.3 331.5,1375.6 341.2,1391.5 350.9,1396.8 360.6,1410.3 370.3,1424.4 380,1438.8 389.7,1450.9 399.4,1457 409.1,1465.7 418.8,1475.2 428.4,1485.9 438.1,1496.7 447.8,1507.4 457.5,1516.9 467.2,1525.6 476.9,1534.4 486.6,1543.8 496.3,1552.5 506,1562.6 515.6,1568.7 525.3,1573.4 535,1575.4 544.7,1575.8 554.4,1575.4 564.1,1574.7 573.8,1570.7 583.5,1562 593.2,1526.3 602.9,1508.1 612.5,1497.4 622.2,1489.3 631.9,1481.2 641.6,1473.1 651.3,1466.4 661,1460.3 670.7,1452.3 680.4,1444.9 690.1,1436.1 699.8,1427.8 709.4,1422 719.1,1413.3 728.8,1403.2 738.5,1391 748.2,1375 757.9,1354.8 767.6,1340 777.3,1329 787,1327.3 796.7,1340.3 806.4,1358 816,1377 825.7,1391.5 835.4,1396.8 845.1,1410.3 854.8,1424.4 864.5,1438.8 874.2,1450.9 883.9,1457 893.6,1465.7 903.2,1475.2 912.9,1485.9 922.6,1496.7 932.3,1507.4 942,1516.9 951.7,1525.6 961.4,1534.4 971.1,1543.8 980.8,1552.5 990.5,1562.6 1000.1,1568.7 1009.8,1573.4 1019.5,1575.4 1029.2,1575.8 1038.9,1575.4 1048.6,1574.7 1058.3,1570.7 1068,1562 1077.7,1526.3 1087.4,1508.1 1097,1497.4 1106.7,1489.3 1116.4,1481.2 1126.1,1473.1 1135.8,1466.4 1145.5,1460.3 1155.2,1452.3 1164.9,1444.9 1174.6,1436.1 1184.3,1427.8 1193.9,1422 1203.6,1413.3 1213.3,1403.2 1223,1391 1232.7,1375 1242.4,1354.8 1252.1,1340 1261.8,1329 1271.5,1327.3 1281.2,1340.3 1290.9,1358 1300.5,1377 1310.2,1391.5 1319.9,1396.8 1329.6,1410.3 1339.3,1424.4 1349,1438.8 1358.7,1450.9 1368.4,1457 1378.1,1465.7 1387.8,1475.2 1397.4,1485.9 1407.1,1496.7 1416.8,1507.4 1426.5,1516.9 1436.2,1525.6 1445.9,1534.4 1455.6,1543.8 1465.3,1552.5 1475,1562.6 1484.7,1568.7 1494.3,1573.4 1504,1575.4 1513.7,1575.8 1523.4,1575.4 1533.1,1574.7 1542.8,1570.7 1552.5,1562 1562.2,1526.3 1571.9,1508.1 1581.6,1497.4 1591.2,1489.3 1600.9,1481.2 1610.6,1473.1 1620.3,1466.4 1630,1460.3 1639.7,1452.3 1649.4,1444.9 1659.1,1436.1 1668.8,1427.8 1678.5,1422 1688.1,1413.3 1697.8,1403.2 1707.5,1391 1717.2,1375 1726.9,1354.8 1736.6,1340 1746.3,1329 1756,1327.3 1765.7,1340.3 1775.4,1358 1785,1377 1794.7,1391.5 1804.4,1396.8 1814.1,1410.3 1823.8,1424.4 1833.5,1438.8 1843.2,1450.9 1852.9,1457 1862.6,1465.7 1872.2,1475.2 1881.9,1485.9 1891.6,1496.7 1901.3,1507.4 1911,1516.9 1920.7,1525.6 1930.4,1534.4 1940.1,1543.8 1949.8,1552.5 1959.5,1562.6 1969.2,1568.7 1978.8,1573.4 1988.5,1575.4 1998.2,1575.8 2007.9,1575.4 2017.6,1574.7 2027.3,1570.7 2037,1562 2046.7,1526.3 2056.4,1508.1 2066.1,1497.4 2075.7,1489.3 2085.4,1481.2 2095.1,1473.1 2104.8,1466.4 2114.5,1460.3 2124.2,1452.3 2133.9,1444.9 2143.6,1436.1 2153.3,1427.8 2162.9,1422 2172.6,1413.3 2182.3,1403.2 2192,1391 2201.7,1375 2211.4,1354.8" fill="none" stroke="#515151" stroke-width="6.7" stroke-linejoin="round" stroke-linecap="round"/>
<polyline clip-path="url(#c2)" points="273.4,1575.8 283.1,1558.6 292.8,1479.7 302.5,1397.4 312.2,1332.2 321.8,1291 331.5,1356 341.2,1364.1 350.9,1380.3 360.6,1388.7 370.3,1400.5 380,1415.6 389.7,1429.1 399.4,1434.8 409.1,1446.9 418.8,1459.7 428.4,1471.1 438.1,1481.2 447.8,1489.3 457.5,1501.4 467.2,1512.8 476.9,1524.3 486.6,1535.7 496.3,1546.5 506,1557.2 515.6,1565.3 525.3,1570.7 535,1574.1 544.7,1574.1 554.4,1572.7 564.1,1570.7 573.8,1541.1 583.5,1519.6 593.2,1505.4 602.9,1493.3 612.5,1483.9 622.2,1475.8 631.9,1467.7 641.6,1459 651.3,1452.3 661,1446.9 670.7,1440.2 680.4,1432.1 690.1,1425.4 699.8,1419.3 709.4,1412.6 719.1,1404.5 728.8,1396 738.5,1384 748.2,1366 757.9,1339.3 767.6,1317.7 777.3,1302 787,1304.3 796.7,1321.1 806.4,1339 816,1345 825.7,1365 835.4,1380.3 845.1,1388.7 854.8,1400.5 864.5,1415.6 874.2,1429.1 883.9,1434.8 893.6,1446.9 903.2,1459.7 912.9,1471.1 922.6,1481.2 932.3,1489.3 942,1501.4 951.7,1512.8 961.4,1524.3 971.1,1535.7 980.8,1546.5 990.5,1557.2 1000.1,1565.3 1009.8,1570.7 1019.5,1574.1 1029.2,1574.1 1038.9,1572.7 1048.6,1570.7 1058.3,1541.1 1068,1519.6 1077.7,1505.4 1087.4,1493.3 1097,1483.9 1106.7,1475.8 1116.4,1467.7 1126.1,1459 1135.8,1452.3 1145.5,1446.9 1155.2,1440.2 1164.9,1432.1 1174.6,1425.4 1184.3,1419.3 1193.9,1412.6 1203.6,1404.5 1213.3,1396 1223,1384 1232.7,1366 1242.4,1339.3 1252.1,1317.7 1261.8,1302 1271.5,1304.3 1281.2,1321.1 1290.9,1339 1300.5,1345 1310.2,1365 1319.9,1380.3 1329.6,1388.7 1339.3,1400.5 1349,1415.6 1358.7,1429.1 1368.4,1434.8 1378.1,1446.9 1387.8,1459.7 1397.4,1471.1 1407.1,1481.2 1416.8,1489.3 1426.5,1501.4 1436.2,1512.8 1445.9,1524.3 1455.6,1535.7 1465.3,1546.5 1475,1557.2 1484.7,1565.3 1494.3,1570.7 1504,1574.1 1513.7,1574.1 1523.4,1572.7 1533.1,1570.7 1542.8,1541.1 1552.5,1519.6 1562.2,1505.4 1571.9,1493.3 1581.6,1483.9 1591.2,1475.8 1600.9,1467.7 1610.6,1459 1620.3,1452.3 1630,1446.9 1639.7,1440.2 1649.4,1432.1 1659.1,1425.4 1668.8,1419.3 1678.5,1412.6 1688.1,1404.5 1697.8,1396 1707.5,1384 1717.2,1366 1726.9,1339.3 1736.6,1317.7 1746.3,1302 1756,1304.3 1765.7,1321.1 1775.4,1339 1785,1345 1794.7,1365 1804.4,1380.3 1814.1,1388.7 1823.8,1400.5 1833.5,1415.6 1843.2,1429.1 1852.9,1434.8 1862.6,1446.9 1872.2,1459.7 1881.9,1471.1 1891.6,1481.2 1901.3,1489.3 1911,1501.4 1920.7,1512.8 1930.4,1524.3 1940.1,1535.7 1949.8,1546.5 1959.5,1557.2 1969.2,1565.3 1978.8,1570.7 1988.5,1574.1 1998.2,1574.1 2007.9,1572.7 2017.6,1570.7 2027.3,1541.1 2037,1519.6 2046.7,1505.4 2056.4,1493.3 2066.1,1483.9 2075.7,1475.8 2085.4,1467.7 2095.1,1459 2104.8,1452.3 2114.5,1446.9 2124.2,1440.2 2133.9,1432.1 2143.6,1425.4 2153.3,1419.3 2162.9,1412.6 2172.6,1404.5 2182.3,1396 2192,1384 2201.7,1366 2211.4,1339.3" fill="none" stroke="#F14040" stroke-width="6.7" stroke-linejoin="round" stroke-linecap="round"/>
<polyline clip-path="url(#c2)" points="273.4,1575.8 283.1,1558.6 292.8,1472.9 302.5,1380.2 312.2,1297.8 321.8,1238.8 331.5,1323.8 341.2,1336.6 350.9,1347.3 360.6,1366.3 370.3,1374 380,1391.4 389.7,1399.1 399.4,1413.2 409.1,1429.4 418.8,1437.5 428.4,1450.9 438.1,1465.7 447.8,1473.8 457.5,1487.3 467.2,1500.7 476.9,1513.5 486.6,1526.3 496.3,1538.4 506,1551.2 515.6,1559.9 525.3,1567.3 535,1570.7 544.7,1567.3 554.4,1549.2 564.1,1534.4 573.8,1518.2 583.5,1504.8 593.2,1492.6 602.9,1481.9 612.5,1473.8 622.2,1465.7 631.9,1457 641.6,1446.9 651.3,1441.5 661,1432.1 670.7,1426.7 680.4,1420 690.1,1411.9 699.8,1407.9 709.4,1401.1 719.1,1396.4 728.8,1387.7 738.5,1375.5 748.2,1357.5 757.9,1327.8 767.6,1295.5 777.3,1276.7 787,1279 796.7,1294.5 806.4,1301 816,1322 825.7,1331 835.4,1348.2 845.1,1366.3 854.8,1374 864.5,1391.4 874.2,1399.1 883.9,1413.2 893.6,1429.4 903.2,1437.5 912.9,1450.9 922.6,1465.7 932.3,1473.8 942,1487.3 951.7,1500.7 961.4,1513.5 971.1,1526.3 980.8,1538.4 990.5,1551.2 1000.1,1559.9 1009.8,1567.3 1019.5,1570.7 1029.2,1567.3 1038.9,1549.2 1048.6,1534.4 1058.3,1518.2 1068,1504.8 1077.7,1492.6 1087.4,1481.9 1097,1473.8 1106.7,1465.7 1116.4,1457 1126.1,1446.9 1135.8,1441.5 1145.5,1432.1 1155.2,1426.7 1164.9,1420 1174.6,1411.9 1184.3,1407.9 1193.9,1401.1 1203.6,1396.4 1213.3,1387.7 1223,1375.5 1232.7,1357.5 1242.4,1327.8 1252.1,1295.5 1261.8,1276.7 1271.5,1279 1281.2,1294.5 1290.9,1301 1300.5,1322 1310.2,1331 1319.9,1348.2 1329.6,1366.3 1339.3,1374 1349,1391.4 1358.7,1399.1 1368.4,1413.2 1378.1,1429.4 1387.8,1437.5 1397.4,1450.9 1407.1,1465.7 1416.8,1473.8 1426.5,1487.3 1436.2,1500.7 1445.9,1513.5 1455.6,1526.3 1465.3,1538.4 1475,1551.2 1484.7,1559.9 1494.3,1567.3 1504,1570.7 1513.7,1567.3 1523.4,1549.2 1533.1,1534.4 1542.8,1518.2 1552.5,1504.8 1562.2,1492.6 1571.9,1481.9 1581.6,1473.8 1591.2,1465.7 1600.9,1457 1610.6,1446.9 1620.3,1441.5 1630,1432.1 1639.7,1426.7 1649.4,1420 1659.1,1411.9 1668.8,1407.9 1678.5,1401.1 1688.1,1396.4 1697.8,1387.7 1707.5,1375.5 1717.2,1357.5 1726.9,1327.8 1736.6,1295.5 1746.3,1276.7 1756,1279 1765.7,1294.5 1775.4,1301 1785,1322 1794.7,1331 1804.4,1348.2 1814.1,1366.3 1823.8,1374 1833.5,1391.4 1843.2,1399.1 1852.9,1413.2 1862.6,1429.4 1872.2,1437.5 1881.9,1450.9 1891.6,1465.7 1901.3,1473.8 1911,1487.3 1920.7,1500.7 1930.4,1513.5 1940.1,1526.3 1949.8,1538.4 1959.5,1551.2 1969.2,1559.9 1978.8,1567.3 1988.5,1570.7 1998.2,1567.3 2007.9,1549.2 2017.6,1534.4 2027.3,1518.2 2037,1504.8 2046.7,1492.6 2056.4,1481.9 2066.1,1473.8 2075.7,1465.7 2085.4,1457 2095.1,1446.9 2104.8,1441.5 2114.5,1432.1 2124.2,1426.7 2133.9,1420 2143.6,1411.9 2153.3,1407.9 2162.9,1401.1 2172.6,1396.4 2182.3,1387.7 2192,1375.5 2201.7,1357.5 2211.4,1327.8" fill="none" stroke="#1A6FDF" stroke-width="6.7" stroke-linejoin="round" stroke-linecap="round"/>
<polyline clip-path="url(#c2)" points="273.4,1575.8 283.1,1557.9 292.8,1465.1 302.5,1357.7 312.2,1253.7 321.8,1160 331.5,1294.9 341.2,1307 350.9,1318.4 360.6,1328.5 370.3,1347 380,1358.5 389.7,1371.5 399.4,1387 409.1,1398.4 418.8,1413.2 428.4,1428.1 438.1,1442.9 447.8,1457 457.5,1458.7 467.2,1436.1 476.9,1409.2 486.6,1385.7 496.3,1366.1 506,1353.4 515.6,1350.7 525.3,1354 535,1367.5 544.7,1385.7 554.4,1407.9 564.1,1432.1 573.8,1457.7 583.5,1475.2 593.2,1477.2 602.9,1468.4 612.5,1457.7 622.2,1448.2 631.9,1438.8 641.6,1430.1 651.3,1422 661,1415.9 670.7,1409.2 680.4,1400.5 690.1,1397.1 699.8,1392.4 709.4,1386.3 719.1,1383.8 728.8,1374 738.5,1366.5 748.2,1339 757.9,1311.7 767.6,1271 777.3,1247.5 787,1246.5 796.7,1248.8 806.4,1272.3 816,1282.1 825.7,1300 835.4,1316.7 845.1,1327.5 854.8,1347 864.5,1358.5 874.2,1371.5 883.9,1387 893.6,1398.4 903.2,1413.2 912.9,1428.1 922.6,1442.9 932.3,1457 942,1458.7 951.7,1436.1 961.4,1409.2 971.1,1385.7 980.8,1366.1 990.5,1353.4 1000.1,1350.7 1009.8,1354 1019.5,1367.5 1029.2,1385.7 1038.9,1407.9 1048.6,1432.1 1058.3,1457.7 1068,1475.2 1077.7,1477.2 1087.4,1468.4 1097,1457.7 1106.7,1448.2 1116.4,1438.8 1126.1,1430.1 1135.8,1422 1145.5,1415.9 1155.2,1409.2 1164.9,1400.5 1174.6,1397.1 1184.3,1392.4 1193.9,1386.3 1203.6,1383.8 1213.3,1374 1223,1366.5 1232.7,1339 1242.4,1311.7 1252.1,1271 1261.8,1247.5 1271.5,1246.5 1281.2,1248.8 1290.9,1272.3 1300.5,1282.1 1310.2,1300 1319.9,1316.7 1329.6,1327.5 1339.3,1347 1349,1358.5 1358.7,1371.5 1368.4,1387 1378.1,1398.4 1387.8,1413.2 1397.4,1428.1 1407.1,1442.9 1416.8,1457 1426.5,1458.7 1436.2,1436.1 1445.9,1409.2 1455.6,1385.7 1465.3,1366.1 1475,1353.4 1484.7,1350.7 1494.3,1354 1504,1367.5 1513.7,1385.7 1523.4,1407.9 1533.1,1432.1 1542.8,1457.7 1552.5,1475.2 1562.2,1477.2 1571.9,1468.4 1581.6,1457.7 1591.2,1448.2 1600.9,1438.8 1610.6,1430.1 1620.3,1422 1630,1415.9 1639.7,1409.2 1649.4,1400.5 1659.1,1397.1 1668.8,1392.4 1678.5,1386.3 1688.1,1383.8 1697.8,1374 1707.5,1366.5 1717.2,1339 1726.9,1311.7 1736.6,1271 1746.3,1247.5 1756,1246.5 1765.7,1248.8 1775.4,1272.3 1785,1282.1 1794.7,1300 1804.4,1316.7 1814.1,1327.5 1823.8,1347 1833.5,1358.5 1843.2,1371.5 1852.9,1387 1862.6,1398.4 1872.2,1413.2 1881.9,1428.1 1891.6,1442.9 1901.3,1457 1911,1458.7 1920.7,1436.1 1930.4,1409.2 1940.1,1385.7 1949.8,1366.1 1959.5,1353.4 1969.2,1350.7 1978.8,1354 1988.5,1367.5 1998.2,1385.7 2007.9,1407.9 2017.6,1432.1 2027.3,1457.7 2037,1475.2 2046.7,1477.2 2056.4,1468.4 2066.1,1457.7 2075.7,1448.2 2085.4,1438.8 2095.1,1430.1 2104.8,1422 2114.5,1415.9 2124.2,1409.2 2133.9,1400.5 2143.6,1397.1 2153.3,1392.4 2162.9,1386.3 2172.6,1383.8 2182.3,1374 2192,1366.5 2201.7,1339 2211.4,1311.7" fill="none" stroke="#37AD6B" stroke-width="6.7" stroke-linejoin="round" stroke-linecap="round"/>
<polyline clip-path="url(#c3)" points="283.1,2057.1 292.8,2043.6 302.5,2026.1 312.2,2004.6 321.8,1983.7 331.5,1997.8 341.2,1991.8 350.9,1977.7 360.6,1972.3 370.3,1968.9 380,1965.5 389.7,1960.8 399.4,1950.7 409.1,1940 418.8,1935.9 428.4,1932.6 438.1,1929.2 447.8,1925.2 457.5,1922.5 467.2,1917.1 476.9,1907.7 486.6,1899.6 496.3,1892.2 506,1881.4 515.6,1870.3 525.3,1861.3 535,1857.2 544.7,1861.3 554.4,1896.9 564.1,1958.8 573.8,2007.3 583.5,2013.3 593.2,1948.1 602.9,1946.7 612.5,1954.8 622.2,1965.5 631.9,1969.6 641.6,1974.3 651.3,1987.7 661,1996.5 670.7,2001.2 680.4,2005.9 690.1,2010.6 699.8,2020.7 709.4,2037.5 719.1,2043.6 728.8,2048.3 738.5,2049 748.2,2049 757.9,2050.3 767.6,2043.6 777.3,2031.5 787,2017.4 796.7,2008.6 806.4,2003.2 816,1997.8 825.7,1993.8 835.4,1977.7 845.1,1972.3 854.8,1968.9 864.5,1965.5 874.2,1960.8 883.9,1950.7 893.6,1940 903.2,1935.9 912.9,1932.6 922.6,1929.2 932.3,1925.2 942,1922.5 951.7,1917.1 961.4,1907.7 971.1,1899.6 980.8,1892.2 990.5,1881.4 1000.1,1870.3 1009.8,1861.3 1019.5,1857.2 1029.2,1861.3 1038.9,1896.9 1048.6,1958.8 1058.3,2007.3 1068,2013.3 1077.7,1948.1 1087.4,1946.7 1097,1954.8 1106.7,1965.5 1116.4,1969.6 1126.1,1974.3 1135.8,1987.7 1145.5,1996.5 1155.2,2001.2 1164.9,2005.9 1174.6,2010.6 1184.3,2020.7 1193.9,2037.5 1203.6,2043.6 1213.3,2048.3 1223,2049 1232.7,2049 1242.4,2050.3 1252.1,2043.6 1261.8,2031.5 1271.5,2017.4 1281.2,2008.6 1290.9,2003.2 1300.5,1997.8 1310.2,1993.8 1319.9,1977.7 1329.6,1972.3 1339.3,1968.9 1349,1965.5 1358.7,1960.8 1368.4,1950.7 1378.1,1940 1387.8,1935.9 1397.4,1932.6 1407.1,1929.2 1416.8,1925.2 1426.5,1922.5 1436.2,1917.1 1445.9,1907.7 1455.6,1899.6 1465.3,1892.2 1475,1881.4 1484.7,1870.3 1494.3,1861.3 1504,1857.2 1513.7,1861.3 1523.4,1896.9 1533.1,1958.8 1542.8,2007.3 1552.5,2013.3 1562.2,1948.1 1571.9,1946.7 1581.6,1954.8 1591.2,1965.5 1600.9,1969.6 1610.6,1974.3 1620.3,1987.7 1630,1996.5 1639.7,2001.2 1649.4,2005.9 1659.1,2010.6 1668.8,2020.7 1678.5,2037.5 1688.1,2043.6 1697.8,2048.3 1707.5,2049 1717.2,2049 1726.9,2050.3 1736.6,2043.6 1746.3,2031.5 1756,2017.4 1765.7,2008.6 1775.4,2003.2 1785,1997.8 1794.7,1993.8 1804.4,1977.7 1814.1,1972.3 1823.8,1968.9 1833.5,1965.5 1843.2,1960.8 1852.9,1950.7 1862.6,1940 1872.2,1935.9 1881.9,1932.6 1891.6,1929.2 1901.3,1925.2 1911,1922.5 1920.7,1917.1 1930.4,1907.7 1940.1,1899.6 1949.8,1892.2 1959.5,1881.4 1969.2,1870.3 1978.8,1861.3 1988.5,1857.2 1998.2,1861.3 2007.9,1896.9 2017.6,1958.8 2027.3,2007.3 2037,2013.3 2046.7,1948.1 2056.4,1946.7 2066.1,1954.8 2075.7,1965.5 2085.4,1969.6 2095.1,1974.3 2104.8,1987.7 2114.5,1996.5 2124.2,2001.2 2133.9,2005.9 2143.6,2010.6 2153.3,2020.7 2162.9,2037.5 2172.6,2043.6 2182.3,2048.3 2192,2049 2201.7,2049 2211.4,2050.3" fill="none" stroke="#515151" stroke-width="6.7" stroke-linejoin="round" stroke-linecap="round"/>
<polyline clip-path="url(#c3)" points="283.1,2020 292.8,1999.2 302.5,1976.3 312.2,1949.4 321.8,1924.5 331.5,1935.9 341.2,1923.8 350.9,1915.1 360.6,1903 370.3,1891.5 380,1884.8 389.7,1878.1 399.4,1866.7 409.1,1859.3 418.8,1853.2 428.4,1848.5 438.1,1841.1 447.8,1833.7 457.5,1827.6 467.2,1822.3 476.9,1815.5 486.6,1810.8 496.3,1802.7 506,1794.7 515.6,1788 525.3,1781.2 535,1778.5 544.7,1783.2 554.4,1808.8 564.1,1850.5 573.8,1843.1 583.5,1845.1 593.2,1851.9 602.9,1860.6 612.5,1869.4 622.2,1878 631.9,1892.9 641.6,1898.9 651.3,1909 661,1923.8 670.7,1933.2 680.4,1940.6 690.1,1958.8 699.8,1972.9 709.4,1981.7 719.1,1991.8 728.8,2010 738.5,2014.7 748.2,2014 757.9,2007.3 767.6,1995.8 777.3,1980.3 787,1968.2 796.7,1957.5 806.4,1948.1 816,1933.2 825.7,1921.8 835.4,1915.1 845.1,1903 854.8,1891.5 864.5,1884.8 874.2,1878.1 883.9,1866.7 893.6,1859.3 903.2,1853.2 912.9,1848.5 922.6,1841.1 932.3,1833.7 942,1827.6 951.7,1822.3 961.4,1815.5 971.1,1810.8 980.8,1802.7 990.5,1794.7 1000.1,1788 1009.8,1781.2 1019.5,1778.5 1029.2,1783.2 1038.9,1808.8 1048.6,1850.5 1058.3,1843.1 1068,1845.1 1077.7,1851.9 1087.4,1860.6 1097,1869.4 1106.7,1878 1116.4,1892.9 1126.1,1898.9 1135.8,1909 1145.5,1923.8 1155.2,1933.2 1164.9,1940.6 1174.6,1958.8 1184.3,1972.9 1193.9,1981.7 1203.6,1991.8 1213.3,2010 1223,2014.7 1232.7,2014 1242.4,2007.3 1252.1,1995.8 1261.8,1980.3 1271.5,1968.2 1281.2,1957.5 1290.9,1948.1 1300.5,1933.2 1310.2,1921.8 1319.9,1915.1 1329.6,1903 1339.3,1891.5 1349,1884.8 1358.7,1878.1 1368.4,1866.7 1378.1,1859.3 1387.8,1853.2 1397.4,1848.5 1407.1,1841.1 1416.8,1833.7 1426.5,1827.6 1436.2,1822.3 1445.9,1815.5 1455.6,1810.8 1465.3,1802.7 1475,1794.7 1484.7,1788 1494.3,1781.2 1504,1778.5 1513.7,1783.2 1523.4,1808.8 1533.1,1850.5 1542.8,1843.1 1552.5,1845.1 1562.2,1851.9 1571.9,1860.6 1581.6,1869.4 1591.2,1878 1600.9,1892.9 1610.6,1898.9 1620.3,1909 1630,1923.8 1639.7,1933.2 1649.4,1940.6 1659.1,1958.8 1668.8,1972.9 1678.5,1981.7 1688.1,1991.8 1697.8,2010 1707.5,2014.7 1717.2,2014 1726.9,2007.3 1736.6,1995.8 1746.3,1980.3 1756,1968.2 1765.7,1957.5 1775.4,1948.1 1785,1933.2 1794.7,1921.8 1804.4,1915.1 1814.1,1903 1823.8,1891.5 1833.5,1884.8 1843.2,1878.1 1852.9,1866.7 1862.6,1859.3 1872.2,1853.2 1881.9,1848.5 1891.6,1841.1 1901.3,1833.7 1911,1827.6 1920.7,1822.3 1930.4,1815.5 1940.1,1810.8 1949.8,1802.7 1959.5,1794.7 1969.2,1788 1978.8,1781.2 1988.5,1778.5 1998.2,1783.2 2007.9,1808.8 2017.6,1850.5 2027.3,1843.1 2037,1845.1 2046.7,1851.9 2056.4,1860.6 2066.1,1869.4 2075.7,1878 2085.4,1892.9 2095.1,1898.9 2104.8,1909 2114.5,1923.8 2124.2,1933.2 2133.9,1940.6 2143.6,1958.8 2153.3,1972.9 2162.9,1981.7 2172.6,1991.8 2182.3,2010 2192,2014.7 2201.7,2014 2211.4,2007.3" fill="none" stroke="#F14040" stroke-width="6.7" stroke-linejoin="round" stroke-linecap="round"/>
<polyline clip-path="url(#c3)" points="283.1,1967.6 292.8,1956.1 302.5,1926.5 312.2,1895.6 321.8,1871 331.5,1870.7 341.2,1859.9 350.9,1843.8 360.6,1833.7 370.3,1822.3 380,1812.2 389.7,1802.1 399.4,1793.3 409.1,1784.6 418.8,1775.8 428.4,1767.1 438.1,1759.7 447.8,1752.9 457.5,1746.9 467.2,1741.5 476.9,1735.5 486.6,1730.1 496.3,1724.7 506,1718.6 515.6,1710.6 525.3,1703.2 535,1703.8 544.7,1721.3 554.4,1738.1 564.1,1745.5 573.8,1755 583.5,1761.7 593.2,1769.8 602.9,1780.5 612.5,1787.3 622.2,1800.7 631.9,1808.8 641.6,1819.6 651.3,1832.3 661,1841.1 670.7,1861.3 680.4,1872.3 690.1,1892.2 699.8,1907 709.4,1919.8 719.1,1943.3 728.8,1954.8 738.5,1970.9 748.2,1972.9 757.9,1962.9 767.6,1945.4 777.3,1929.2 787,1915.1 796.7,1900.3 806.4,1883.5 816,1869.4 825.7,1855.9 835.4,1843.8 845.1,1833.7 854.8,1822.3 864.5,1812.2 874.2,1802.1 883.9,1793.3 893.6,1784.6 903.2,1775.8 912.9,1767.1 922.6,1759.7 932.3,1752.9 942,1746.9 951.7,1741.5 961.4,1735.5 971.1,1730.1 980.8,1724.7 990.5,1718.6 1000.1,1710.6 1009.8,1703.2 1019.5,1703.8 1029.2,1721.3 1038.9,1738.1 1048.6,1745.5 1058.3,1755 1068,1761.7 1077.7,1769.8 1087.4,1780.5 1097,1787.3 1106.7,1800.7 1116.4,1808.8 1126.1,1819.6 1135.8,1832.3 1145.5,1841.1 1155.2,1861.3 1164.9,1872.3 1174.6,1892.2 1184.3,1907 1193.9,1919.8 1203.6,1943.3 1213.3,1954.8 1223,1970.9 1232.7,1972.9 1242.4,1962.9 1252.1,1945.4 1261.8,1929.2 1271.5,1915.1 1281.2,1900.3 1290.9,1883.5 1300.5,1869.4 1310.2,1855.9 1319.9,1843.8 1329.6,1833.7 1339.3,1822.3 1349,1812.2 1358.7,1802.1 1368.4,1793.3 1378.1,1784.6 1387.8,1775.8 1397.4,1767.1 1407.1,1759.7 1416.8,1752.9 1426.5,1746.9 1436.2,1741.5 1445.9,1735.5 1455.6,1730.1 1465.3,1724.7 1475,1718.6 1484.7,1710.6 1494.3,1703.2 1504,1703.8 1513.7,1721.3 1523.4,1738.1 1533.1,1745.5 1542.8,1755 1552.5,1761.7 1562.2,1769.8 1571.9,1780.5 1581.6,1787.3 1591.2,1800.7 1600.9,1808.8 1610.6,1819.6 1620.3,1832.3 1630,1841.1 1639.7,1861.3 1649.4,1872.3 1659.1,1892.2 1668.8,1907 1678.5,1919.8 1688.1,1943.3 1697.8,1954.8 1707.5,1970.9 1717.2,1972.9 1726.9,1962.9 1736.6,1945.4 1746.3,1929.2 1756,1915.1 1765.7,1900.3 1775.4,1883.5 1785,1869.4 1794.7,1855.9 1804.4,1843.8 1814.1,1833.7 1823.8,1822.3 1833.5,1812.2 1843.2,1802.1 1852.9,1793.3 1862.6,1784.6 1872.2,1775.8 1881.9,1767.1 1891.6,1759.7 1901.3,1752.9 1911,1746.9 1920.7,1741.5 1930.4,1735.5 1940.1,1730.1 1949.8,1724.7 1959.5,1718.6 1969.2,1710.6 1978.8,1703.2 1988.5,1703.8 1998.2,1721.3 2007.9,1738.1 2017.6,1745.5 2027.3,1755 2037,1761.7 2046.7,1769.8 2056.4,1780.5 2066.1,1787.3 2075.7,1800.7 2085.4,1808.8 2095.1,1819.6 2104.8,1832.3 2114.5,1841.1 2124.2,1861.3 2133.9,1872.3 2143.6,1892.2 2153.3,1907 2162.9,1919.8 2172.6,1943.3 2182.3,1954.8 2192,1970.9 2201.7,1972.9 2211.4,1962.9" fill="none" stroke="#1A6FDF" stroke-width="6.7" stroke-linejoin="round" stroke-linecap="round"/>
<polyline clip-path="url(#c3)" points="283.1,1922.5 292.8,1903.6 302.5,1870.4 312.2,1839.7 321.8,1820.9 331.5,1806.1 341.2,1794.7 350.9,1781.2 360.6,1768.4 370.3,1757 380,1745.5 389.7,1734.1 399.4,1723.3 409.1,1713.9 418.8,1705.2 428.4,1697.8 438.1,1689.7 447.8,1683 457.5,1677 467.2,1676.8 476.9,1677.2 486.6,1678 496.3,1678.3 506,1679.3 515.6,1679 525.3,1678.5 535,1680.3 544.7,1680.3 554.4,1682.3 564.1,1683.6 573.8,1688.4 583.5,1693.1 593.2,1699.1 602.9,1707.9 612.5,1716.6 622.2,1726 631.9,1737.5 641.6,1748.9 651.3,1761 661,1775.2 670.7,1791.3 680.4,1807.4 690.1,1822.9 699.8,1843.8 709.4,1859.9 719.1,1883 728.8,1904.3 738.5,1916.4 748.2,1922.5 757.9,1917.1 767.6,1897.6 777.3,1880.4 787,1859.9 796.7,1839.7 806.4,1824.3 816,1809.5 825.7,1794.7 835.4,1781.2 845.1,1768.4 854.8,1757 864.5,1745.5 874.2,1734.1 883.9,1723.3 893.6,1713.9 903.2,1705.2 912.9,1697.8 922.6,1689.7 932.3,1683 942,1677 951.7,1676.8 961.4,1677.2 971.1,1678 980.8,1678.3 990.5,1679.3 1000.1,1679 1009.8,1678.5 1019.5,1680.3 1029.2,1680.3 1038.9,1682.3 1048.6,1683.6 1058.3,1688.4 1068,1693.1 1077.7,1699.1 1087.4,1707.9 1097,1716.6 1106.7,1726 1116.4,1737.5 1126.1,1748.9 1135.8,1761 1145.5,1775.2 1155.2,1791.3 1164.9,1807.4 1174.6,1822.9 1184.3,1843.8 1193.9,1859.9 1203.6,1883 1213.3,1904.3 1223,1916.4 1232.7,1922.5 1242.4,1917.1 1252.1,1897.6 1261.8,1880.4 1271.5,1859.9 1281.2,1839.7 1290.9,1824.3 1300.5,1809.5 1310.2,1794.7 1319.9,1781.2 1329.6,1768.4 1339.3,1757 1349,1745.5 1358.7,1734.1 1368.4,1723.3 1378.1,1713.9 1387.8,1705.2 1397.4,1697.8 1407.1,1689.7 1416.8,1683 1426.5,1677 1436.2,1676.8 1445.9,1677.2 1455.6,1678 1465.3,1678.3 1475,1679.3 1484.7,1679 1494.3,1678.5 1504,1680.3 1513.7,1680.3 1523.4,1682.3 1533.1,1683.6 1542.8,1688.4 1552.5,1693.1 1562.2,1699.1 1571.9,1707.9 1581.6,1716.6 1591.2,1726 1600.9,1737.5 1610.6,1748.9 1620.3,1761 1630,1775.2 1639.7,1791.3 1649.4,1807.4 1659.1,1822.9 1668.8,1843.8 1678.5,1859.9 1688.1,1883 1697.8,1904.3 1707.5,1916.4 1717.2,1922.5 1726.9,1917.1 1736.6,1897.6 1746.3,1880.4 1756,1859.9 1765.7,1839.7 1775.4,1824.3 1785,1809.5 1794.7,1794.7 1804.4,1781.2 1814.1,1768.4 1823.8,1757 1833.5,1745.5 1843.2,1734.1 1852.9,1723.3 1862.6,1713.9 1872.2,1705.2 1881.9,1697.8 1891.6,1689.7 1901.3,1683 1911,1677 1920.7,1676.8 1930.4,1677.2 1940.1,1678 1949.8,1678.3 1959.5,1679.3 1969.2,1679 1978.8,1678.5 1988.5,1680.3 1998.2,1680.3 2007.9,1682.3 2017.6,1683.6 2027.3,1688.4 2037,1693.1 2046.7,1699.1 2056.4,1707.9 2066.1,1716.6 2075.7,1726 2085.4,1737.5 2095.1,1748.9 2104.8,1761 2114.5,1775.2 2124.2,1791.3 2133.9,1807.4 2143.6,1822.9 2153.3,1843.8 2162.9,1859.9 2172.6,1883 2182.3,1904.3 2192,1916.4 2201.7,1922.5 2211.4,1917.1" fill="none" stroke="#37AD6B" stroke-width="6.7" stroke-linejoin="round" stroke-linecap="round"/>
<line x1="1878" y1="108.6" x2="1975.5" y2="108.6" stroke="#000" stroke-width="7" stroke-linecap="round"/>
<text transform="translate(1988.68,124.90) scale(0.9502,1)" font-size="45.9" font-weight="bold">B</text>
<text transform="translate(2021.36,136.70) scale(0.9727,1)" font-size="30.5" font-weight="bold">AC</text>
<text transform="translate(2070.75,124.90) scale(0.9710,1)" font-size="45.9" font-weight="bold">90</text>
<text transform="translate(2132.24,124.90) scale(0.9781,1)" font-size="45.9" font-weight="bold">mT</text>
<rect x="1922" y="605.5" width="283.7" height="268.3" fill="none" stroke="#000" stroke-width="1.8"/>
<line x1="1929" y1="637.7" x2="2025.6" y2="637.7" stroke="#515151" stroke-width="6.8" stroke-linecap="round"/>
<text transform="translate(2037.92,653.10) scale(1.1344,1)" font-size="45.9" font-weight="bold">I</text>
<text transform="translate(2052.61,664.70) scale(0.9738,1)" font-size="30.5" font-weight="bold">DC</text>
<text transform="translate(2108.17,653.10) scale(0.9767,1)" font-size="45.9" font-weight="bold">30</text>
<text transform="translate(2170.52,653.10) scale(0.9417,1)" font-size="45.9" font-weight="bold">A</text>
<line x1="1929" y1="703" x2="2025.6" y2="703" stroke="#F14040" stroke-width="6.8" stroke-linecap="round"/>
<text transform="translate(2037.92,718.80) scale(1.1344,1)" font-size="45.9" font-weight="bold">I</text>
<text transform="translate(2052.61,730.40) scale(0.9738,1)" font-size="30.5" font-weight="bold">DC</text>
<text transform="translate(2108.53,718.80) scale(0.9695,1)" font-size="45.9" font-weight="bold">40</text>
<text transform="translate(2170.52,718.80) scale(0.9417,1)" font-size="45.9" font-weight="bold">A</text>
<line x1="1929" y1="768.9" x2="2025.6" y2="768.9" stroke="#1A6FDF" stroke-width="6.8" stroke-linecap="round"/>
<text transform="translate(2037.92,784.60) scale(1.1344,1)" font-size="45.9" font-weight="bold">I</text>
<text transform="translate(2052.61,796.20) scale(0.9738,1)" font-size="30.5" font-weight="bold">DC</text>
<text transform="translate(2107.81,784.60) scale(0.9841,1)" font-size="45.9" font-weight="bold">50</text>
<text transform="translate(2170.52,784.60) scale(0.9417,1)" font-size="45.9" font-weight="bold">A</text>
<line x1="1929" y1="834.1" x2="2025.6" y2="834.1" stroke="#37AD6B" stroke-width="6.8" stroke-linecap="round"/>
<text transform="translate(2037.92,849.70) scale(1.1344,1)" font-size="45.9" font-weight="bold">I</text>
<text transform="translate(2052.61,861.30) scale(0.9738,1)" font-size="30.5" font-weight="bold">DC</text>
<text transform="translate(2107.54,849.70) scale(0.9897,1)" font-size="45.9" font-weight="bold">60</text>
<text transform="translate(2170.52,849.70) scale(0.9417,1)" font-size="45.9" font-weight="bold">A</text>
<rect x="1920.3" y="1132.5" width="283.7" height="268.3" fill="none" stroke="#000" stroke-width="1.8"/>
<line x1="1927.3" y1="1164.7" x2="2023.9" y2="1164.7" stroke="#515151" stroke-width="6.8" stroke-linecap="round"/>
<text transform="translate(2036.22,1180.10) scale(1.1344,1)" font-size="45.9" font-weight="bold">I</text>
<text transform="translate(2050.91,1191.70) scale(0.9738,1)" font-size="30.5" font-weight="bold">DC</text>
<text transform="translate(2106.47,1180.10) scale(0.9767,1)" font-size="45.9" font-weight="bold">30</text>
<text transform="translate(2168.82,1180.10) scale(0.9417,1)" font-size="45.9" font-weight="bold">A</text>
<line x1="1927.3" y1="1230" x2="2023.9" y2="1230" stroke="#F14040" stroke-width="6.8" stroke-linecap="round"/>
<text transform="translate(2036.22,1245.80) scale(1.1344,1)" font-size="45.9" font-weight="bold">I</text>
<text transform="translate(2050.91,1257.40) scale(0.9738,1)" font-size="30.5" font-weight="bold">DC</text>
<text transform="translate(2106.83,1245.80) scale(0.9695,1)" font-size="45.9" font-weight="bold">40</text>
<text transform="translate(2168.82,1245.80) scale(0.9417,1)" font-size="45.9" font-weight="bold">A</text>
<line x1="1927.3" y1="1295.9" x2="2023.9" y2="1295.9" stroke="#1A6FDF" stroke-width="6.8" stroke-linecap="round"/>
<text transform="translate(2036.22,1311.60) scale(1.1344,1)" font-size="45.9" font-weight="bold">I</text>
<text transform="translate(2050.91,1323.20) scale(0.9738,1)" font-size="30.5" font-weight="bold">DC</text>
<text transform="translate(2106.11,1311.60) scale(0.9841,1)" font-size="45.9" font-weight="bold">50</text>
<text transform="translate(2168.82,1311.60) scale(0.9417,1)" font-size="45.9" font-weight="bold">A</text>
<line x1="1927.3" y1="1361.1" x2="2023.9" y2="1361.1" stroke="#37AD6B" stroke-width="6.8" stroke-linecap="round"/>
<text transform="translate(2036.22,1376.70) scale(1.1344,1)" font-size="45.9" font-weight="bold">I</text>
<text transform="translate(2050.91,1388.30) scale(0.9738,1)" font-size="30.5" font-weight="bold">DC</text>
<text transform="translate(2105.84,1376.70) scale(0.9897,1)" font-size="45.9" font-weight="bold">60</text>
<text transform="translate(2168.82,1376.70) scale(0.9417,1)" font-size="45.9" font-weight="bold">A</text>
<rect x="1921.2" y="1658.6" width="283.7" height="268.3" fill="none" stroke="#000" stroke-width="1.8"/>
<line x1="1928.2" y1="1690.8" x2="2024.8" y2="1690.8" stroke="#515151" stroke-width="6.8" stroke-linecap="round"/>
<text transform="translate(2037.12,1706.20) scale(1.1344,1)" font-size="45.9" font-weight="bold">I</text>
<text transform="translate(2051.81,1717.80) scale(0.9738,1)" font-size="30.5" font-weight="bold">DC</text>
<text transform="translate(2107.37,1706.20) scale(0.9767,1)" font-size="45.9" font-weight="bold">30</text>
<text transform="translate(2169.72,1706.20) scale(0.9417,1)" font-size="45.9" font-weight="bold">A</text>
<line x1="1928.2" y1="1756.1" x2="2024.8" y2="1756.1" stroke="#F14040" stroke-width="6.8" stroke-linecap="round"/>
<text transform="translate(2037.12,1771.90) scale(1.1344,1)" font-size="45.9" font-weight="bold">I</text>
<text transform="translate(2051.81,1783.50) scale(0.9738,1)" font-size="30.5" font-weight="bold">DC</text>
<text transform="translate(2107.73,1771.90) scale(0.9695,1)" font-size="45.9" font-weight="bold">40</text>
<text transform="translate(2169.72,1771.90) scale(0.9417,1)" font-size="45.9" font-weight="bold">A</text>
<line x1="1928.2" y1="1822" x2="2024.8" y2="1822" stroke="#1A6FDF" stroke-width="6.8" stroke-linecap="round"/>
<text transform="translate(2037.12,1837.70) scale(1.1344,1)" font-size="45.9" font-weight="bold">I</text>
<text transform="translate(2051.81,1849.30) scale(0.9738,1)" font-size="30.5" font-weight="bold">DC</text>
<text transform="translate(2107.01,1837.70) scale(0.9841,1)" font-size="45.9" font-weight="bold">50</text>
<text transform="translate(2169.72,1837.70) scale(0.9417,1)" font-size="45.9" font-weight="bold">A</text>
<line x1="1928.2" y1="1887.2" x2="2024.8" y2="1887.2" stroke="#37AD6B" stroke-width="6.8" stroke-linecap="round"/>
<text transform="translate(2037.12,1902.80) scale(1.1344,1)" font-size="45.9" font-weight="bold">I</text>
<text transform="translate(2051.81,1914.40) scale(0.9738,1)" font-size="30.5" font-weight="bold">DC</text>
<text transform="translate(2106.74,1902.80) scale(0.9897,1)" font-size="45.9" font-weight="bold">60</text>
<text transform="translate(2169.72,1902.80) scale(0.9417,1)" font-size="45.9" font-weight="bold">A</text>
<text transform="translate(583.97,664.70) scale(0.9566,1)" font-size="59.3" font-weight="bold">Opposite peak</text>
<line x1="604.7" y1="674.8" x2="562.9" y2="700.3" stroke="#000" stroke-width="6.2"/>
<polygon points="535.1,716.9 559.0,693.0 566.8,707.6" fill="#000" stroke="#000" stroke-width="6.2" stroke-linejoin="round"/>
<text transform="translate(555.87,1210.20) scale(0.9593,1)" font-size="59.3" font-weight="bold">Opposite peak</text>
<line x1="576.6" y1="1220.4" x2="534.6" y2="1322.4" stroke="#000" stroke-width="6.2"/>
<polygon points="522.6,1349.6 527.8,1319.3 541.4,1325.6" fill="#000" stroke="#000" stroke-width="6.2" stroke-linejoin="round"/>
<text transform="translate(245.00,128.58) scale(0.9540,1)" font-size="59" text-anchor="end">80</text>
<text transform="translate(245.00,222.54) scale(0.9540,1)" font-size="59" text-anchor="end">40</text>
<text transform="translate(245.00,316.50) scale(0.9540,1)" font-size="59" text-anchor="end">0</text>
<text transform="translate(245.00,410.46) scale(0.9540,1)" font-size="59" text-anchor="end">-40</text>
<text transform="translate(245.00,504.42) scale(0.9540,1)" font-size="59" text-anchor="end">-80</text>
<text transform="translate(273.40,594.60) scale(0.9540,1)" font-size="59" text-anchor="middle">0.00</text>
<text transform="translate(757.90,594.60) scale(0.9540,1)" font-size="59" text-anchor="middle">0.01</text>
<text transform="translate(1242.40,594.60) scale(0.9540,1)" font-size="59" text-anchor="middle">0.02</text>
<text transform="translate(1726.90,594.60) scale(0.9540,1)" font-size="59" text-anchor="middle">0.03</text>
<text transform="translate(2211.40,594.60) scale(0.9540,1)" font-size="59" text-anchor="middle">0.04</text>
<text transform="translate(245.00,684.40) scale(0.9540,1)" font-size="59" text-anchor="end">0.06</text>
<text transform="translate(245.00,812.00) scale(0.9540,1)" font-size="59" text-anchor="end">0.04</text>
<text transform="translate(245.00,939.60) scale(0.9540,1)" font-size="59" text-anchor="end">0.02</text>
<text transform="translate(245.00,1067.20) scale(0.9540,1)" font-size="59" text-anchor="end">0.00</text>
<text transform="translate(273.40,1122.20) scale(0.9540,1)" font-size="59" text-anchor="middle">0.00</text>
<text transform="translate(757.90,1122.20) scale(0.9540,1)" font-size="59" text-anchor="middle">0.01</text>
<text transform="translate(1242.40,1122.20) scale(0.9540,1)" font-size="59" text-anchor="middle">0.02</text>
<text transform="translate(1726.90,1122.20) scale(0.9540,1)" font-size="59" text-anchor="middle">0.03</text>
<text transform="translate(2211.40,1122.20) scale(0.9540,1)" font-size="59" text-anchor="middle">0.04</text>
<text transform="translate(245.00,1182.62) scale(0.9540,1)" font-size="59" text-anchor="end">6</text>
<text transform="translate(245.00,1319.88) scale(0.9540,1)" font-size="59" text-anchor="end">4</text>
<text transform="translate(245.00,1457.14) scale(0.9540,1)" font-size="59" text-anchor="end">2</text>
<text transform="translate(245.00,1594.40) scale(0.9540,1)" font-size="59" text-anchor="end">0</text>
<text transform="translate(273.40,1649.40) scale(0.9540,1)" font-size="59" text-anchor="middle">0.00</text>
<text transform="translate(757.90,1649.40) scale(0.9540,1)" font-size="59" text-anchor="middle">0.01</text>
<text transform="translate(1242.40,1649.40) scale(0.9540,1)" font-size="59" text-anchor="middle">0.02</text>
<text transform="translate(1726.90,1649.40) scale(0.9540,1)" font-size="59" text-anchor="middle">0.03</text>
<text transform="translate(2211.40,1649.40) scale(0.9540,1)" font-size="59" text-anchor="middle">0.04</text>
<text transform="translate(245.00,1697.80) scale(0.9540,1)" font-size="59" text-anchor="end">100</text>
<text transform="translate(245.00,1782.80) scale(0.9540,1)" font-size="59" text-anchor="end">80</text>
<text transform="translate(245.00,1867.80) scale(0.9540,1)" font-size="59" text-anchor="end">60</text>
<text transform="translate(245.00,1952.80) scale(0.9540,1)" font-size="59" text-anchor="end">40</text>
<text transform="translate(245.00,2037.80) scale(0.9540,1)" font-size="59" text-anchor="end">20</text>
<text transform="translate(245.00,2122.80) scale(0.9540,1)" font-size="59" text-anchor="end">0</text>
<text transform="translate(273.40,2177.80) scale(0.9540,1)" font-size="59" text-anchor="middle">0.00</text>
<text transform="translate(757.90,2177.80) scale(0.9540,1)" font-size="59" text-anchor="middle">0.01</text>
<text transform="translate(1242.40,2177.80) scale(0.9540,1)" font-size="59" text-anchor="middle">0.02</text>
<text transform="translate(1726.90,2177.80) scale(0.9540,1)" font-size="59" text-anchor="middle">0.03</text>
<text transform="translate(2211.40,2177.80) scale(0.9540,1)" font-size="59" text-anchor="middle">0.04</text>
<text transform="translate(87.90,422.96) rotate(-90) scale(0.9254,1)" font-size="73.3">B</text>
<text transform="translate(107.20,374.59) rotate(-90) scale(0.8956,1)" font-size="50.4">AC</text>
<text transform="translate(87.90,290.80) rotate(-90) scale(0.9247,1)" font-size="73.3">(mT)</text>
<text transform="translate(84.00,1007.68) rotate(-90) scale(0.8726,1)" font-size="73.3">V</text>
<text transform="translate(103.20,964.69) rotate(-90) scale(0.9391,1)" font-size="50.4">dynamic</text>
<text transform="translate(84.00,767.84) rotate(-90) scale(0.9333,1)" font-size="73.3">(V/m)</text>
<text transform="translate(115.50,1511.96) rotate(-90) scale(0.9393,1)" font-size="73.3">Q</text>
<text transform="translate(133.80,1453.38) rotate(-90) scale(0.8965,1)" font-size="50.4">total</text>
<text transform="translate(115.00,1347.94) rotate(-90) scale(0.9320,1)" font-size="73.3">(W/m)</text>
<text transform="translate(110.00,2115.90) rotate(-90) scale(0.9793,1)" font-size="73.3">Q</text>
<text transform="translate(128.20,2062.00) rotate(-90) scale(0.9440,1)" font-size="50.4">dynamic</text>
<text transform="translate(110.00,1884.70) rotate(-90) scale(0.9821,1)" font-size="73.3">/</text>
<text transform="translate(110.00,1866.24) rotate(-90) scale(0.9633,1)" font-size="73.3">Q</text>
<text transform="translate(128.50,1811.69) rotate(-90) scale(0.9108,1)" font-size="50.4">total</text>
<text transform="translate(110.00,1701.67) rotate(-90) scale(0.9170,1)" font-size="73.3">(%)</text>
<text transform="translate(1115.74,2271.10) scale(0.9462,1)" font-size="73.3">Time (s)</text>
</svg></body></html>
